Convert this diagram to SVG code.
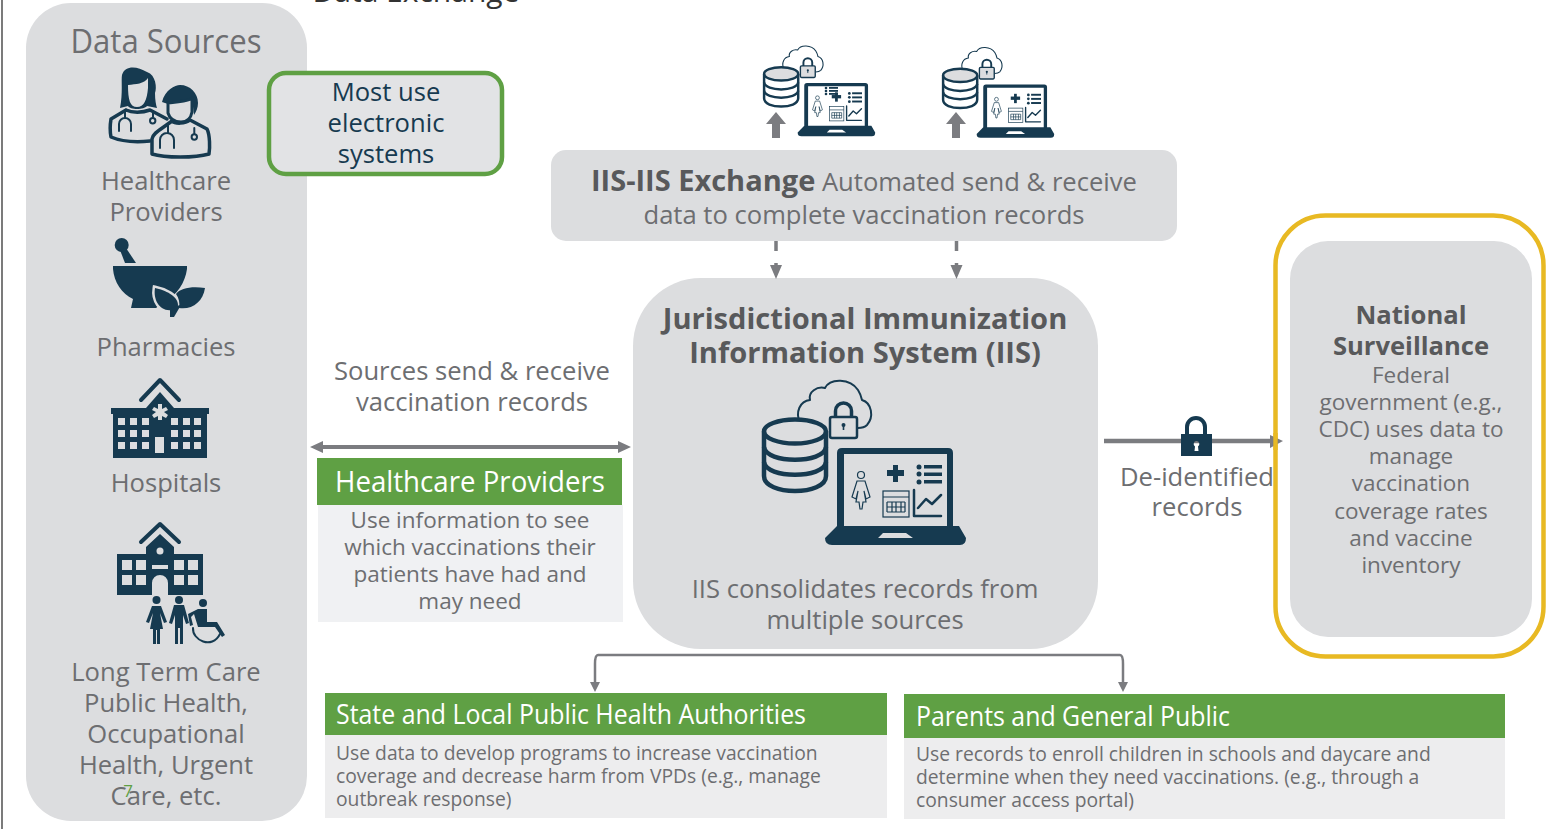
<svg xmlns="http://www.w3.org/2000/svg" width="1556" height="829" viewBox="0 0 1556 829">
<style>
text{font-family:"Open Sans","Noto Sans","Liberation Sans",sans-serif;fill:#6d6e71;text-anchor:middle}
.p{fill:#dcdddf}
.n{fill:#163a50}
.ns{fill:none;stroke:#163a50;stroke-linejoin:round;stroke-linecap:round}
.c{fill:none;stroke:#7b7c80}
.a{fill:#7b7c80}
.s26{font-size:25.600px}
.s23{font-size:22.500px}
.b{font-weight:700;fill:#58595b}
.hd{fill:#fff;font-size:29px;text-anchor:start}
.hd2{fill:#fff;font-size:27px;text-anchor:start}
.sm{font-size:19.300px;text-anchor:start}
</style>
<defs>
<g id="iis">
<path class="ns" stroke-width="2" d="M800 423C795 412 800 401 810 400C808 392 817 386 825 388C830 378 850 378 858 390C860 393 861 396 862 400C872 403 874 417 867 425C864 428 861 428 858 428"/>
<path class="ns" stroke-width="3.500" d="M835.500 417V411A8 8 0 0 1 851.500 411V417"/>
<rect x="830" y="417" width="27" height="21" rx="2" fill="#dcdddf" stroke="#163a50" stroke-width="2.500"/>
<circle class="n" cx="843.500" cy="425" r="2"/><rect class="n" x="842.700" y="425" width="1.600" height="5"/>
<g fill="none" stroke="#163a50" stroke-width="4.500">
<ellipse cx="795" cy="431.500" rx="31" ry="12" fill="#dcdddf"/>
<path d="M764 431.500V476C764 496 826 496 826 476V431.500"/>
<path d="M764 447C766 464 824 464 826 447M764 462C766 479 824 479 826 462"/>
</g>
<path class="n" d="M842 448H948Q953 448 953 453V526H959L966 538Q966 545 960 545H832Q825 545 825 538L837 526V453Q837 448 842 448ZM844 454V526H947V454ZM878 538L883 533H906L913 538Z" fill-rule="evenodd"/>
<rect class="n" x="887" y="470" width="17" height="6"/><rect class="n" x="893" y="465" width="5" height="17"/>
<g class="n"><circle cx="919" cy="467" r="2.500"/><circle cx="919" cy="474" r="2.500"/><circle cx="919" cy="482" r="2.500"/><rect x="924" y="465" width="18" height="3.500"/><rect x="924" y="472.500" width="18" height="3.500"/><rect x="924" y="480" width="18" height="3.500"/></g>
<g fill="none" stroke="#163a50" stroke-width="1.200"><circle cx="861" cy="475" r="3.500"/><path d="M857 481H865L870 497L866 499L864 491L866 502H863L862 509H860L859 502H856L858 491L856 499L852 497Z"/>
<rect x="883" y="491" width="26" height="26"/><path d="M883 497H909M887 502H905M887 507H905M887 512H905M887 502V512M892 502V512M896 502V512M901 502V512M905 502V512"/></g>
<path class="ns" stroke-width="2.500" d="M914 490V516H941M918 508L926 499L932 504L941 495"/>
</g>
</defs>
<rect width="1556" height="829" fill="#fff"/>
<path d="M2 0V829" stroke="#333" stroke-width="1.300"/>
<text x="416" y="1.500" font-size="30" style="fill:#333">Data Exchange</text>

<g id="data-sources">
<rect class="p" x="26" y="3" width="281" height="818" rx="45"/>
<text x="166" y="53" font-size="33" textLength="191" lengthAdjust="spacingAndGlyphs">Data Sources</text>
<g id="icon-providers">
<path class="n" fill-rule="evenodd" d="M120 108C123 93 121 80 122 75C125 65 137 66 147 72C156 75 157 88 155 93C155 100 156 105 157 108L147 106C144 110 130 110 128 106ZM128 85C128 100 130 107 137 107C144 107 147 100 148 88L148 78C144 84 136 84 128 85Z"/>
<path class="ns" stroke-width="3.500" d="M126 110L111 119C110 125 110 132 111 137C125 143 140 142 150 141M126 110C132 113 142 113 150 110L167 119"/>
<path class="ns" stroke-width="2" d="M125 110V117M119 131V124A6 6 0 0 1 131 124V131M153 112V117"/>
<circle cx="152.700" cy="120.700" r="2.700" fill="none" stroke="#163a50" stroke-width="2"/>
<path class="p" stroke="#163a50" stroke-width="3.500" stroke-linejoin="round" d="M172 121C175 124 185 124 190 120L207 129C210 135 210 148 209 154C195 158 165 158 152 154V139C153 133 160 130 172 121Z"/>
<path class="n" d="M162 102C165 90 175 85 180 85C190 85 198 93 198 103C198 108 196 112 194 115L192 98C188 102 180 101 168 104Z"/>
<path class="ns" stroke-width="3" style="fill:#dcdddf" d="M168 103V113C170 120 176 122 181 122C187 122 191 118 192 112V98C188 102 180 101 168 103Z"/>
<path class="ns" stroke-width="2" d="M168 125V133M160 148V140A7 7 0 0 1 174 140V148M194.300 128V134"/>
<circle cx="194.300" cy="137" r="2.700" fill="none" stroke="#163a50" stroke-width="2"/>
</g>
<text class="s26" x="166" y="190">Healthcare</text>
<text class="s26" x="166" y="221">Providers</text>
<g id="icon-pharmacy">
<circle class="n" cx="121.700" cy="245" r="7"/>
<path class="n" d="M120 250L126 248L136 263H125Z"/>
<path class="n" d="M113 266H187V269C185 283 177 295 165 301L156 308H131L133 299C122 294 114 282 113 269Z"/>
<path class="n" stroke="#dcdddf" stroke-width="5" paint-order="stroke" d="M155 288C165 290 178 296 178 305C178 308 175 310 172 310C160 312 153 300 155 288Z"/>
<path class="n" d="M205 288C192 286 180 288 176 294C179 298 180 303 179 308C192 310 203 302 205 288Z"/>
<path class="n" d="M170 309L176 306L181 305L174 317H170Z"/>
</g>
<text class="s26" x="166" y="356">Pharmacies</text>
<g id="icon-hospital">
<path class="ns" stroke-width="4" stroke-linecap="butt" stroke-linejoin="miter" d="M141 400L160 380L179 400"/>
<path class="n" d="M146 408L160 392L174 408H209V414H207V458H113V414H111V408Z"/>
<g class="p">
<path d="M158 404H162V409L166 407L168 410L164 412L168 415L166 418L162 416V420H158V416L154 418L152 415L156 412L152 410L154 407L158 409Z"/>
<path d="M118 418h7v7h-7zM130 418h7v7h-7zM142 418h7v7h-7zM171 418h7v7h-7zM183 418h7v7h-7zM194 418h7v7h-7zM118 430h7v7h-7zM130 430h7v7h-7zM142 430h7v7h-7zM171 430h7v7h-7zM183 430h7v7h-7zM194 430h7v7h-7zM118 442h7v7h-7zM130 442h7v7h-7zM142 442h7v7h-7zM171 442h7v7h-7zM183 442h7v7h-7zM194 442h7v7h-7zM155 437h9v16h-9z"/>
</g>
</g>
<text class="s26" x="166" y="492">Hospitals</text>
<g id="icon-ltc">
<path class="ns" stroke-width="4" stroke-linecap="butt" stroke-linejoin="miter" d="M141 542L160 524L179 542"/>
<path class="n" d="M146 547L160 534L174 547V554H203V595H168V583A8 8 0 0 0 152 583V595H117V554H146Z"/>
<g class="p"><circle cx="160" cy="551" r="3.500"/><path d="M122 560h10v10h-10zM136 560h10v10h-10zM174 560h10v10h-10zM188 560h10v10h-10zM122 575h10v10h-10zM136 575h10v10h-10zM174 575h10v10h-10zM188 575h10v10h-10zM152 565h16v4h-16z"/></g>
<g class="n">
<circle cx="156.500" cy="600" r="4"/><path d="M152 606H161L167 622L164 623L160 613L163 629H160V644H157V630H156V644H153V629H150L153 613L149 623L146 622Z"/>
<circle cx="179" cy="600" r="4"/><path d="M174 605H184L189 623L186 624L183 615V644H180V628H178V644H175V615L172 624L169 623Z"/>
<circle cx="203" cy="603" r="4"/><path d="M198 609H207V622H217L225 635L222 637L215 627H198L194 614L191 617L193 625L190 626L188 614Z"/>
</g>
<path class="ns" stroke-width="2" d="M193 628C192 640 212 650 220 634"/>
</g>
<text class="s26" x="166" y="681">Long Term Care</text>
<text class="s26" x="166" y="712">Public Health,</text>
<text class="s26" x="166" y="743">Occupational</text>
<text class="s26" x="166" y="774">Health, Urgent</text>
<text class="s26" x="166" y="805">Care, etc.</text>
<text x="128" y="797" font-size="17" style="fill:#5fa044">7</text>
</g>

<g id="electronic">
<rect x="269" y="73" width="233" height="101" rx="17" fill="#e2e3e5" stroke="#5fa044" stroke-width="4.500"/>
<g class="s26"><text x="386" y="101" style="fill:#163a50">Most use</text><text x="386" y="132" style="fill:#163a50">electronic</text><text x="386" y="163" style="fill:#163a50">systems</text></g>
</g>

<g id="iis-exchange">
<rect class="p" x="551" y="150" width="626" height="91" rx="15"/>
<text x="864" y="191"><tspan class="b" font-size="29">IIS-IIS Exchange</tspan><tspan font-size="25.600"> Automated send &amp; receive</tspan></text>
<text class="s26" x="864" y="224">data to complete vaccination records</text>
</g>
<g id="icon-small-1"><use href="#iis" transform="translate(763,45) scale(.55) translate(-762,-379)"/>
<g class="n"><circle cx="826" cy="88" r="1.300"/><circle cx="826" cy="91" r="1.300"/><circle cx="826" cy="94" r="1.300"/><rect x="829" y="87" width="9" height="1.800"/><rect x="829" y="90" width="9" height="1.800"/><rect x="829" y="93" width="9" height="1.800"/></g></g>
<g id="icon-small-2"><use href="#iis" transform="translate(942,46.500) scale(.55) translate(-762,-379)"/></g>

<g id="iis-main">
<rect class="p" x="633" y="278" width="465" height="371" rx="68"/>
<text class="b" x="865" y="329" font-size="29.100">Jurisdictional Immunization</text>
<text class="b" x="865" y="363" font-size="29.100">Information System (IIS)</text>
<use href="#iis"/>
<text class="s26" x="865" y="598">IIS consolidates records from</text>
<text class="s26" x="865" y="629">multiple sources</text>
</g>

<g id="send-receive">
<text class="s26" x="472" y="380">Sources send &amp; receive</text>
<text class="s26" x="472" y="411">vaccination records</text>
</g>

<g id="providers-box">
<rect x="318" y="505" width="305" height="117" fill="#f0f1f3"/>
<rect x="317" y="458" width="305" height="47" fill="#5fa044"/>
<text class="hd" x="335" y="492" textLength="270" lengthAdjust="spacingAndGlyphs">Healthcare Providers</text>
<g class="s23"><text x="470" y="528">Use information to see</text><text x="470" y="555">which vaccinations their</text><text x="470" y="582">patients have had and</text><text x="470" y="609">may need</text></g>
</g>

<g id="state-box">
<rect x="325" y="735" width="562" height="83" fill="#ededee"/>
<rect x="325" y="693" width="562" height="42" fill="#5fa044"/>
<text class="hd2" x="336" y="724" textLength="470" lengthAdjust="spacingAndGlyphs">State and Local Public Health Authorities</text>
<text class="sm" x="336" y="760">Use data to develop programs to increase vaccination</text>
<text class="sm" x="336" y="783">coverage and decrease harm from VPDs (e.g., manage</text>
<text class="sm" x="336" y="806">outbreak response)</text>
</g>

<g id="parents-box">
<rect x="904" y="738" width="601" height="81" fill="#ededee"/>
<rect x="904" y="694" width="601" height="44" fill="#5fa044"/>
<text class="hd2" x="916" y="726" textLength="314" lengthAdjust="spacingAndGlyphs">Parents and General Public</text>
<text class="sm" x="916" y="761">Use records to enroll children in schools and daycare and</text>
<text class="sm" x="916" y="784">determine when they need vaccinations. (e.g., through a</text>
<text class="sm" x="916" y="807">consumer access portal)</text>
</g>

<g id="national">
<rect x="1275.500" y="215.500" width="268" height="441" rx="50" fill="none" stroke="#e8b923" stroke-width="4.500"/>
<rect class="p" x="1290" y="241" width="242" height="396" rx="38"/>
<text class="b" x="1411" y="324" font-size="25.600">National</text>
<text class="b" x="1411" y="355" font-size="25.600">Surveillance</text>
<g class="s23"><text x="1411" y="383">Federal</text><text x="1411" y="410">government (e.g.,</text><text x="1411" y="437">CDC) uses data to</text><text x="1411" y="464">manage</text><text x="1411" y="491">vaccination</text><text x="1411" y="519">coverage rates</text><text x="1411" y="546">and vaccine</text><text x="1411" y="573">inventory</text></g>
</g>

<g id="deid">
<text class="s26" x="1197" y="486">De-identified</text>
<text class="s26" x="1197" y="516">records</text>
</g>

<g id="connectors">
<path class="a" d="M776 112L786 124H780V138H772V124H766ZM956 112L966 124H960V138H952V124H946Z"/>
<path class="c" stroke-width="3.500" stroke-dasharray="10 12" d="M776 241V266"/>
<path class="c" stroke-width="3.500" stroke-dasharray="10 12" d="M956.500 241V266"/>
<path class="a" d="M770 265H782L776 279ZM950.500 265H962.500L956.500 279Z"/>
<path class="c" stroke-width="4" d="M318 447H622"/>
<path class="a" d="M310 447L323 441V453ZM631 447L618 441V453Z"/>
<path class="c" stroke-width="4.500" d="M1104 441H1272"/>
<path class="a" d="M1270 435L1283 441L1270 448Z"/>
<path class="c" stroke-width="2.500" d="M595 684V664Q595 655 598 655H1120Q1123 655 1123 664V684"/>
<path class="a" d="M590 682H600L595 692ZM1118 682H1128L1123 692Z"/>
</g>
<path fill="#e8b923" d="M1273.300 433H1277.700V450H1273.300Z"/>
<g id="lock"><path class="ns" stroke-width="4" d="M1187 434V427A9 9 0 0 1 1205 427V434"/>
<path class="n" fill-rule="evenodd" d="M1181 434H1212V456H1181ZM1196.500 441A3 3 0 0 0 1195 446.500L1194.500 451H1198.500L1198 446.500A3 3 0 0 0 1196.500 441Z"/></g>
</svg>
